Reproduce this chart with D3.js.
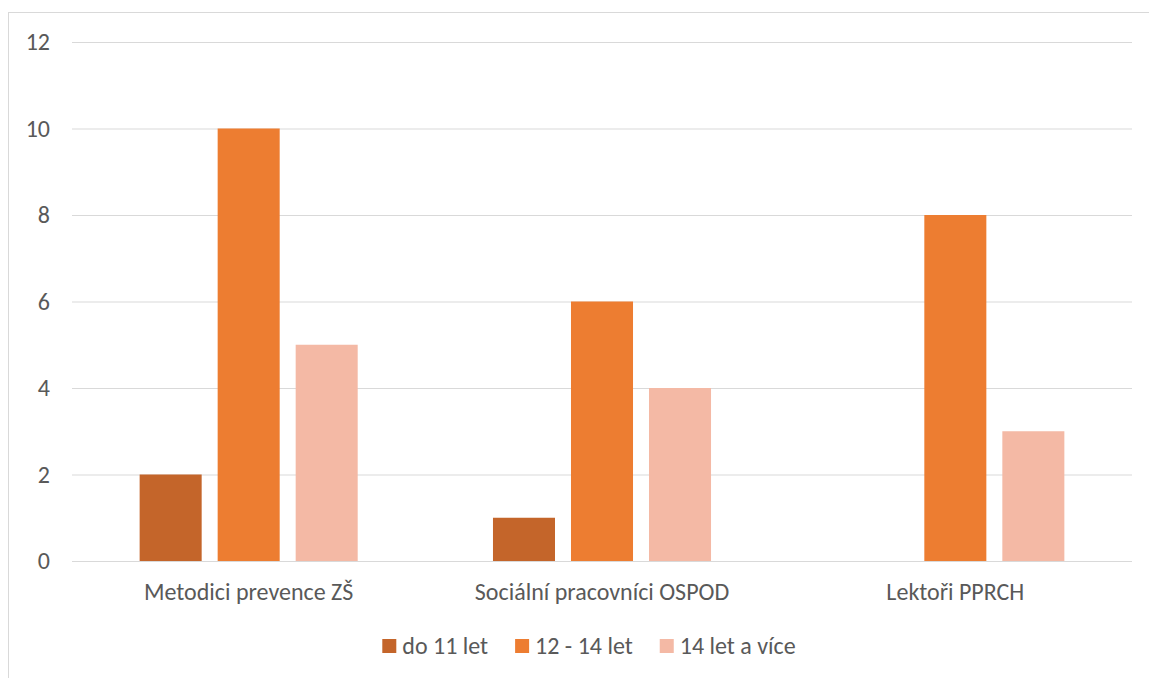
<!DOCTYPE html>
<html>
<head>
<meta charset="utf-8">
<script src="https://cdn.jsdelivr.net/npm/d3@7/dist/d3.min.js"></script>
<style>
  html, body { margin: 0; padding: 0; background: #fff; }
  svg { display: block; }
  text { font-family: Carlito, "Liberation Sans", Arial, sans-serif; fill: #595959; }
</style>
</head>
<body>
<svg id="chart" width="1149" height="678"></svg>
<script>
// Categories (respondent groups), series (age bands) and values
const categories = ["Metodici prevence ZŠ", "Sociální pracovníci OSPOD", "Lektoři PPRCH"];
const seriesNames = ["do 11 let", "12 - 14 let", "14 let a více"];
const seriesColors = ["#C4652A", "#ED7D31", "#F4B9A5"];
const do11 = [2, 1, 0];
const od12do14 = [10, 6, 8];
const nad14 = [5, 4, 3];
const yTicks = [0, 2, 4, 6, 8, 10, 12];

const seriesValues = [do11, od12do14, nad14];
const FONT = 'Carlito, "Liberation Sans", Arial, sans-serif';

const svg = d3.select("#chart");
const W = 1149, H = 678;
const plot = { left: 72, right: 1132, top: 42, bottom: 561 };

// Chart frame (extends past the right and bottom edges)
svg.append("rect")
  .attr("x", 8.5).attr("y", 12.5)
  .attr("width", W + 20).attr("height", H + 20)
  .attr("fill", "none").attr("stroke", "#d9d9d9").attr("stroke-width", 1);

const y = d3.scaleLinear().domain([0, 12]).range([plot.bottom, plot.top]);

const x0 = d3.scaleBand().domain(categories)
  .range([plot.left, plot.right]).paddingInner(0).paddingOuter(0);

const x1 = d3.scaleBand().domain(seriesNames)
  .range([0, x0.bandwidth()]).paddingInner(0.205).paddingOuter(0.867);

// Value axis with gridlines
const yAxis = d3.axisLeft(y).tickValues(yTicks)
  .tickSize(-(plot.right - plot.left)).tickPadding(22)
  .tickFormat(d3.format("d"));

const gy = svg.append("g")
  .attr("transform", `translate(${plot.left},0)`)
  .call(yAxis);
gy.select(".domain").remove();
gy.selectAll(".tick line").attr("stroke", "#d9d9d9").attr("stroke-width", 1.2);
gy.selectAll(".tick text")
  .attr("font-size", 24).attr("fill", "#595959")
  .style("font-family", FONT);

// Bars
const groups = svg.append("g").selectAll("g")
  .data(categories)
  .join("g")
  .attr("transform", d => `translate(${x0(d)},0)`);

groups.selectAll("rect")
  .data((c, ci) => seriesNames.map((s, si) => ({ s, si, v: seriesValues[si][ci] })))
  .join("rect")
  .attr("x", d => x1(d.s))
  .attr("width", x1.bandwidth())
  .attr("y", d => y(d.v))
  .attr("height", d => y(0) - y(d.v))
  .attr("fill", d => seriesColors[d.si]);

// Category axis labels
const xAxis = d3.axisBottom(x0).tickSize(0).tickPadding(22);
const gx = svg.append("g")
  .attr("transform", `translate(0,${plot.bottom})`)
  .call(xAxis);
gx.select(".domain").remove();
gx.selectAll(".tick text")
  .attr("font-size", 24).attr("fill", "#595959")
  .style("font-family", FONT);

// Legend
const legend = svg.append("g").attr("transform", "translate(0,646)");
const items = legend.selectAll("g").data(seriesNames).join("g");
items.append("rect")
  .attr("width", 14).attr("height", 14).attr("y", -7)
  .attr("fill", (d, i) => seriesColors[i]);
items.append("text")
  .attr("x", 20).attr("y", 7.5)
  .attr("font-size", 24)
  .text(d => d);
const gap = 27;
const widths = [];
items.each(function() { widths.push(this.getBBox().width); });
const total = d3.sum(widths) + gap * (widths.length - 1);
let cx = (385 + 793) / 2 - total / 2;
items.attr("transform", (d, i) => {
  const t = `translate(${cx},0)`;
  cx += widths[i] + gap;
  return t;
});
</script>
</body>
</html>
